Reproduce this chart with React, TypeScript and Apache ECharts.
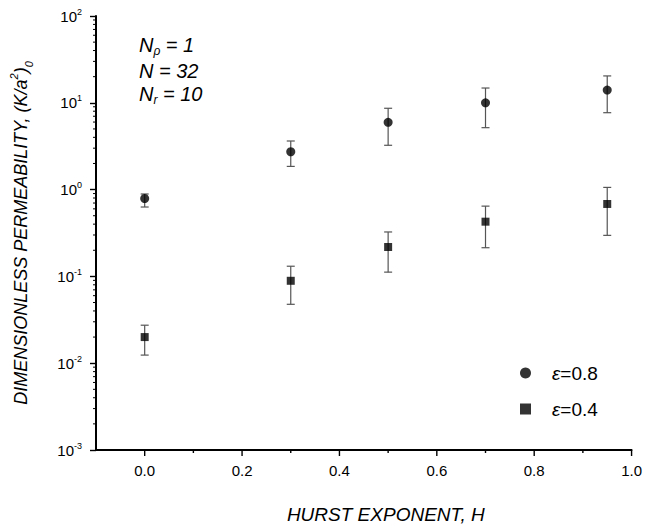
import React, { useEffect, useRef } from "react";
import * as echarts from "echarts";

// Hurst exponent values
const hurst = [0, 0.3, 0.5, 0.7, 0.95];
// eps = 0.8
const perm08 = [0.79, 2.73, 5.96, 10.0, 14.0];
const perm08Low = [0.63, 1.85, 3.24, 5.17, 7.69];
const perm08High = [0.89, 3.63, 8.65, 14.8, 20.4];
// eps = 0.4
const perm04 = [0.02, 0.089, 0.218, 0.427, 0.683];
const perm04Low = [0.0124, 0.0477, 0.112, 0.214, 0.297];
const perm04High = [0.0274, 0.131, 0.325, 0.645, 1.06];

const seriesNames = ["ε=0.8", "ε=0.4"];
const xMajorTicks = [0, 0.2, 0.4, 0.6, 0.8, 1.0];
const xMinorTicks = [0.1, 0.3, 0.5, 0.7, 0.9];
const yDecades = [-3, -2, -1, 0, 1];
const yMinorMultipliers = [2, 3, 4, 5, 6, 7, 8, 9];

const X_MIN = -0.1;
const X_MAX = 1.0;
const Y_MIN = 0.001;
const Y_MAX = 100;

const FONT = "'Liberation Sans', Arial, sans-serif";

export default function App() {
  const ref = useRef<HTMLDivElement>(null);

  useEffect(() => {
    if (!ref.current) return;
    const chart = echarts.init(ref.current, undefined, { renderer: "svg" });

    const yMinorTicks: number[][] = [];
    yDecades.forEach((d) => {
      yMinorMultipliers.forEach((m) => {
        yMinorTicks.push([X_MIN, m * Math.pow(10, d)]);
      });
    });

    const errData = (lo: number[], hi: number[]) =>
      hurst.map((h, i) => [h, lo[i], hi[i]]);

    const errRender = (params: any, api: any) => {
      const x = api.value(0);
      const lo = api.coord([x, api.value(1)]);
      const hi = api.coord([x, api.value(2)]);
      const cap = 4;
      const style = { stroke: "#555", lineWidth: 1.2 };
      return {
        type: "group",
        children: [
          { type: "line", shape: { x1: lo[0], y1: lo[1], x2: hi[0], y2: hi[1] }, style },
          { type: "line", shape: { x1: lo[0] - cap, y1: lo[1], x2: lo[0] + cap, y2: lo[1] }, style },
          { type: "line", shape: { x1: hi[0] - cap, y1: hi[1], x2: hi[0] + cap, y2: hi[1] }, style },
        ],
      };
    };

    const xTickRender = (len: number) => (params: any, api: any) => {
      const p = api.coord([api.value(0), Y_MIN]);
      return {
        type: "line",
        shape: { x1: p[0], y1: p[1], x2: p[0], y2: p[1] + len },
        style: { stroke: "#000", lineWidth: 1.4 },
      };
    };

    const yMinorRender = (params: any, api: any) => {
      const p = api.coord([X_MIN, api.value(1)]);
      return {
        type: "line",
        shape: { x1: p[0] - 3, y1: p[1], x2: p[0], y2: p[1] },
        style: { stroke: "#000", lineWidth: 1 },
      };
    };

    chart.setOption({
      animation: false,
      backgroundColor: "#fff",
      textStyle: { fontFamily: FONT },
      grid: { left: 93, right: 8, top: 16, bottom: 79 },
      xAxis: {
        type: "value",
        min: X_MIN,
        max: X_MAX,
        interval: 0.1,
        name: "HURST EXPONENT, H",
        nameLocation: "middle",
        nameGap: 55,
        nameTextStyle: {
          fontSize: 19,
          fontStyle: "italic",
          color: "#000",
          fontFamily: FONT,
          padding: [0, 0, 0, 44],
        },
        axisLine: { onZero: false, lineStyle: { color: "#000", width: 2 } },
        axisTick: { show: false },
        splitLine: { show: false },
        axisLabel: {
          color: "#000",
          fontSize: 15,
          margin: 13,
          fontFamily: FONT,
          formatter: (v: number) => {
            const r = Math.round(v * 10);
            if (r < 0 || r % 2 !== 0) return "";
            return (r / 10).toFixed(1);
          },
        },
      },
      yAxis: {
        type: "log",
        logBase: 10,
        min: Y_MIN,
        max: Y_MAX,
        name: "{n|DIMENSIONLESS PERMEABILITY, (K/a}{sup|2}{n|)}{sub|0}",
        nameLocation: "middle",
        nameGap: 62,
        nameRotate: 90,
        nameTextStyle: {
          color: "#000",
          rich: {
            n: { fontSize: 18, fontStyle: "italic", fontFamily: FONT, lineHeight: 26, color: "#000" },
            sup: { fontSize: 11, fontStyle: "italic", fontFamily: FONT, verticalAlign: "top", lineHeight: 13, color: "#000" },
            sub: { fontSize: 11, fontStyle: "italic", fontFamily: FONT, verticalAlign: "bottom", lineHeight: 13, color: "#000" },
          },
        },
        axisLine: { show: true, onZero: false, lineStyle: { color: "#000", width: 2 } },
        axisTick: { show: true, length: 6, lineStyle: { color: "#000", width: 1.4 } },
        splitLine: { show: false },
        minorTick: { show: false },
        axisLabel: {
          color: "#000",
          margin: 14,
          formatter: (v: number) => {
            const e = Math.round(Math.log10(v));
            return `{b|10}{s|${e}}`;
          },
          rich: {
            b: { fontSize: 15, fontFamily: FONT, color: "#000", lineHeight: 18 },
            s: { fontSize: 9, fontFamily: FONT, color: "#000", verticalAlign: "top", lineHeight: 9, padding: [0, 0, 7, 0] },
          },
        },
      },
      legend: {
        data: seriesNames,
        orient: "vertical",
        left: 515,
        top: 357,
        itemWidth: 11,
        itemHeight: 11,
        itemGap: 14,
        formatter: (name: string) => `{e|ε}{t|${name.slice(1)}}`,
        textStyle: {
          color: "#000",
          lineHeight: 22,
          rich: {
            e: { fontSize: 19, fontStyle: "italic", fontFamily: FONT, color: "#000", padding: [0, 0, 0, 16] },
            t: { fontSize: 19, fontFamily: FONT, color: "#000" },
          },
        },
      },
      graphic: [
        {
          type: "text",
          left: 139,
          top: 35,
          style: {
            text: "{n|N}{sub|ρ}{n| = 1}",
            rich: {
              n: { fontSize: 20, fontStyle: "italic", fontFamily: FONT, fill: "#000", lineHeight: 24 },
              sub: { fontSize: 12, fontStyle: "italic", fontFamily: FONT, fill: "#000", verticalAlign: "bottom", lineHeight: 10 },
            },
          },
        },
        {
          type: "text",
          left: 139,
          top: 61,
          style: {
            text: "N = 32",
            fontSize: 20,
            fontStyle: "italic",
            fontFamily: FONT,
            fill: "#000",
          },
        },
        {
          type: "text",
          left: 139,
          top: 84,
          style: {
            text: "{n|N}{sub|r}{n| = 10}",
            rich: {
              n: { fontSize: 20, fontStyle: "italic", fontFamily: FONT, fill: "#000", lineHeight: 24 },
              sub: { fontSize: 12, fontStyle: "italic", fontFamily: FONT, fill: "#000", verticalAlign: "bottom", lineHeight: 10 },
            },
          },
        },
      ],
      series: [
        {
          type: "custom",
          name: "err08",
          data: errData(perm08Low, perm08High),
          renderItem: errRender,
          clip: false,
          z: 2,
        },
        {
          type: "custom",
          name: "err04",
          data: errData(perm04Low, perm04High),
          renderItem: errRender,
          clip: false,
          z: 2,
        },
        {
          type: "scatter",
          name: seriesNames[0],
          data: hurst.map((h, i) => [h, perm08[i]]),
          symbol: "circle",
          symbolSize: 9,
          itemStyle: { color: "#000" },
          z: 3,
        },
        {
          type: "scatter",
          name: seriesNames[1],
          data: hurst.map((h, i) => [h, perm04[i]]),
          symbol: "rect",
          symbolSize: 8,
          itemStyle: { color: "#000" },
          z: 3,
        },
        {
          type: "custom",
          name: "xMajor",
          data: xMajorTicks.map((x) => [x, Y_MIN]),
          renderItem: xTickRender(6),
          clip: false,
          silent: true,
        },
        {
          type: "custom",
          name: "xMinor",
          data: xMinorTicks.map((x) => [x, Y_MIN]),
          renderItem: xTickRender(3),
          clip: false,
          silent: true,
        },
        {
          type: "custom",
          name: "yMinor",
          data: yMinorTicks,
          renderItem: yMinorRender,
          clip: false,
          silent: true,
        },
      ],
    });

    return () => chart.dispose();
  }, []);

  return <div ref={ref} style={{ width: 645, height: 529, position: "absolute", left: 0, top: 0 }} />;
}
